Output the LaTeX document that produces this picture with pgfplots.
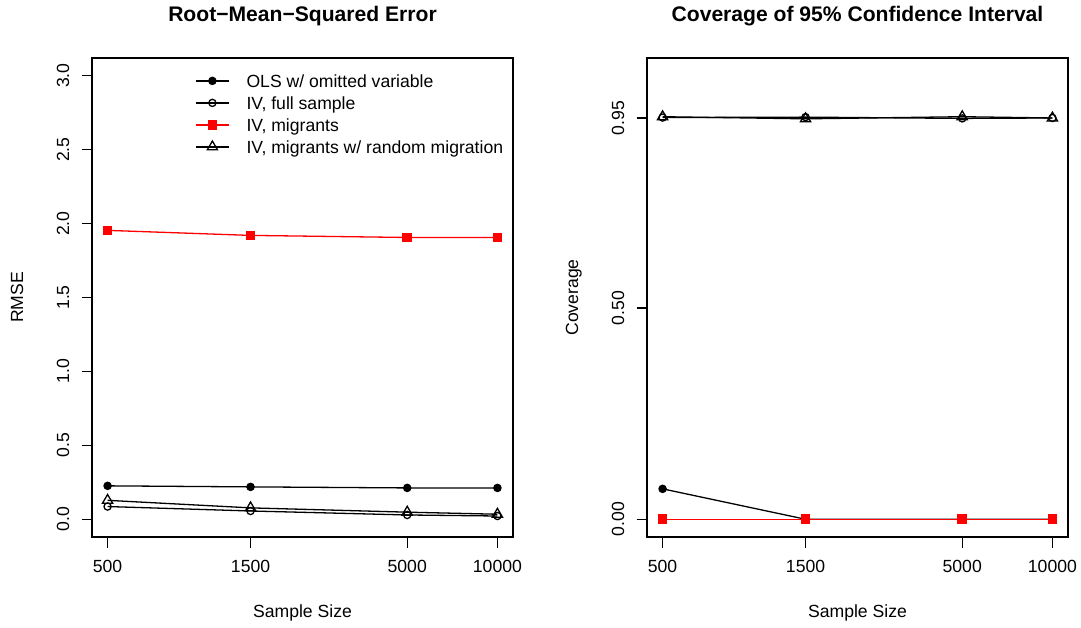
\documentclass[border=0pt]{standalone}
\usepackage{fontspec}
\setmainfont{Liberation Sans}
\usepackage{pgfplots}
\pgfplotsset{compat=1.18}

\pgfplotsset{
  rpanel/.style={
    scale only axis, width=421pt, height=479pt,
    anchor=south west,
    xmin=443.6, xmax=11273,
    xtick={500,1500,5000,10000},
    xticklabels={500,1500,5000,10000},
    xminorticks=false, yminorticks=false,
    tick align=outside, xtick pos=bottom, ytick pos=left,
    major tick length=10.5pt,
    axis line style={line width=1.2pt},
    every tick/.style={black, line width=1.2pt},
    font=\fontsize{17.6}{21}\selectfont,
    xticklabel style={anchor=north, inner sep=0pt, yshift=-12.5pt},
    yticklabel style={rotate=90, anchor=south, inner sep=0pt, yshift=12pt},
    every axis plot/.append style={line width=1.3pt},
  },
}

\begin{document}
\begin{tikzpicture}
\path[use as bounding box] (0,0) rectangle (1081pt,627pt);

% left panel: RMSE
\begin{semilogxaxis}[rpanel, at={(92pt,90pt)},
  ymin=-0.12, ymax=3.12,
  ytick={0,0.5,1,1.5,2,2.5,3},
  yticklabels={0.0,0.5,1.0,1.5,2.0,2.5,3.0},
  legend image code/.code={\draw[mark repeat=2,mark phase=2] plot coordinates {(0pt,0pt)(16.5pt,0pt)(33pt,0pt)};},
  legend cell align=left,
  legend style={draw=none, fill=none, at={(rel axis cs:0.2447,0.971)}, anchor=north west,
    inner sep=0pt, row sep=4.4pt, column sep=17pt,
    font=\fontsize{17.6}{21}\selectfont,
    nodes={inner sep=0pt, text height=15.1pt, text depth=2.5pt}},
]
\addplot[black, mark=*, mark size=3.6pt] coordinates {(500,0.226) (1500,0.219) (5000,0.212) (10000,0.212)};
\addlegendentry{OLS w/ omitted variable}
\addplot[black, mark=o, mark size=3.6pt] coordinates {(500,0.086) (1500,0.056) (5000,0.029) (10000,0.022)};
\addlegendentry{IV, full sample}
\addplot[red, mark=square*, mark size=4.2pt] coordinates {(500,1.954) (1500,1.920) (5000,1.906) (10000,1.906)};
\addlegendentry{IV, migrants}
\addplot[black, mark=triangle, mark size=5.9pt] coordinates {(500,0.128) (1500,0.077) (5000,0.048) (10000,0.034)};
\addlegendentry{IV, migrants w/ random migration}
\end{semilogxaxis}

% right panel: coverage
\begin{semilogxaxis}[rpanel, at={(647pt,90pt)},
  ymin=-0.042, ymax=1.092,
  ytick={0,0.5,0.95},
  yticklabels={0.00,0.50,0.95},
]
\addplot[black, mark=*, mark size=3.6pt] coordinates {(500,0.072) (1500,0) (5000,0) (10000,0)};
\addplot[black, mark=o, mark size=3.6pt] coordinates {(500,0.951) (1500,0.952) (5000,0.949) (10000,0.950)};
\addplot[red, mark=square*, mark size=4.2pt] coordinates {(500,0) (1500,0) (5000,0) (10000,0)};
\addplot[black, mark=triangle, mark size=5.9pt] coordinates {(500,0.953) (1500,0.948) (5000,0.953) (10000,0.950)};
\end{semilogxaxis}

% titles and axis labels
\begin{scope}[every node/.style={inner sep=0pt}]
\node[anchor=base, font=\bfseries\fontsize{21.1}{25}\selectfont] at (302.5pt,605pt) {Root−Mean−Squared Error};
\node[anchor=base, font=\bfseries\fontsize{21.1}{25}\selectfont] at (857.5pt,605pt) {Coverage of 95\% Confidence Interval};
\node[anchor=base, font=\fontsize{17.6}{21}\selectfont] at (302.5pt,10pt) {Sample Size};
\node[anchor=base, font=\fontsize{17.6}{21}\selectfont] at (857.5pt,10pt) {Sample Size};
\node[anchor=base, rotate=90, font=\fontsize{17.6}{21}\selectfont] at (23pt,329.5pt) {RMSE};
\node[anchor=base, rotate=90, font=\fontsize{17.6}{21}\selectfont] at (578pt,329.5pt) {Coverage};
\end{scope}
\end{tikzpicture}
\end{document}
